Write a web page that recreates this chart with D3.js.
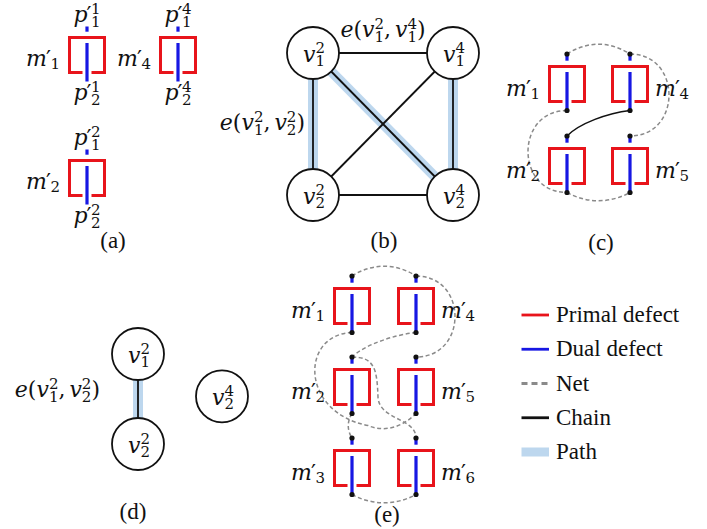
<!DOCTYPE html>
<html>
<head>
<meta charset="utf-8">
<script src="https://cdn.jsdelivr.net/npm/d3@7"></script>
<style>
  body { margin: 0; background: #fff; }
  svg { display: block; }
</style>
</head>
<body>
<svg id="fig" width="707" height="529"></svg>
<script>
// ---------- defects m'_k (panels a, c, e) ----------
const defectsA = ["1", "4", "2"];
const defectColA = ["L", "R", "L"];
const defectRowA = [0, 0, 1];

const defectsC = ["1", "4", "2", "5"];
const defectColC = ["L", "R", "L", "R"];
const defectRowC = [0, 0, 1, 1];

const defectsE = ["1", "4", "2", "5", "3", "6"];
const defectColE = ["L", "R", "L", "R", "L", "R"];
const defectRowE = [0, 0, 1, 1, 2, 2];

// ---------- port graphs (panels b, d); vertex v^k_i stored as [i, k] ----------
const verticesB = [["1", "2"], ["1", "4"], ["2", "2"], ["2", "4"]];
const edgesB = [[0, 1], [0, 2], [0, 3], [1, 2], [1, 3], [2, 3]];
const pathB = [[0, 2], [0, 3], [1, 3]];
const labelledEdgesB = [[0, 1], [0, 2]];

const verticesD = [["1", "2"], ["2", "2"], ["2", "4"]];
const edgesD = [[0, 1]];
const pathD = [[0, 1]];
const labelledEdgesD = [[0, 1]];

// ---------- nets / chains between port terminals: [defect, end] ----------
const netsC = [
  [["1", "t"], ["4", "t"]],
  [["4", "t"], ["5", "t"]],
  [["1", "b"], ["2", "b"]],
  [["2", "b"], ["5", "b"]]
];
const chainsC = [[["4", "b"], ["2", "t"]]];

const netsE = [
  [["1", "t"], ["4", "t"]],
  [["4", "t"], ["5", "t"]],
  [["1", "b"], ["5", "b"]],
  [["4", "b"], ["2", "t"]],
  [["2", "t"], ["6", "t"]],
  [["2", "b"], ["3", "t"]],
  [["3", "b"], ["6", "b"]]
];

// ---------- legend ----------
const legendItems = ["Primal defect", "Dual defect", "Net", "Chain", "Path"];
const legendKinds = ["primal", "dual", "net", "chain", "path"];
const panelTags = ["(a)", "(b)", "(c)", "(d)", "(e)"];

// ---------- style ----------
const RED = "#e8141b", BLUE = "#1717e3", PATHC = "#bdd7ee", NETC = "#8a8a8a", INK = "#111";
const MATH = "'DejaVu Serif', serif";
const TEXT = "'Liberation Serif', 'Times New Roman', serif";

const svg = d3.select("#fig");
const layer = {
  band: svg.append("g"),
  edge: svg.append("g"),
  node: svg.append("g"),
  defect: svg.append("g"),
  net: svg.append("g"),
  dot: svg.append("g"),
  text: svg.append("g")
};

// typeset a small formula (tokens {b, prime, sup, sub, after}) as one text element
function mathLabel(parent, x, y, tokens, anchor) {
  const s = 22, ss = 15;
  const text = parent.append("text").style("font-family", MATH).attr("fill", INK);
  let cx = 0;
  const put = (txt, px, py, fs, italic) => {
    const t = text.append("tspan").attr("x", px).attr("y", py)
      .style("font-size", fs + "px")
      .style("font-style", italic ? "italic" : "normal")
      .text(txt);
    return t.node().getComputedTextLength();
  };
  tokens.forEach(tk => {
    cx += put(tk.b, cx, 0, s, /[a-z]/.test(tk.b));
    if (tk.prime) cx += put("\u2032", cx - 1, 0, s, false) - 1.5;
    if (tk.sup || tk.sub) {
      let w = 0;
      if (tk.sup) w = Math.max(w, put(tk.sup, cx, -8.5, ss, false));
      if (tk.sub) w = Math.max(w, put(tk.sub, cx, tk.sup ? 4.5 : 2.5, ss, false));
      cx += w;
    }
    if (tk.after) cx += tk.after;
  });
  const shift = anchor === "middle" ? cx / 2 : anchor === "end" ? cx : 0;
  text.attr("transform", `translate(${x - shift},${y})`);
}
const vTok = (i, k) => ({ b: "v", sup: k, sub: i });
const pTok = (k, i) => ({ b: "p", prime: true, sup: k, sub: i });
const mTok = k => ({ b: "m", prime: true, sub: k });
const eToks = (u, w) => [{ b: "e" }, { b: "(" }, vTok(u[0], u[1]), { b: ",", after: 4 }, vTok(w[0], w[1]), { b: ")" }];

// one primal/dual defect pair: red bracket with a blue dual line
function drawDefect(cx, ty, tickTop) {
  layer.defect.append("path")
    .attr("d", `M${cx - 4.5},${ty + 36.5}H${cx - 17.5}V${ty + 1.5}H${cx + 17.5}V${ty + 36.5}H${cx + 4.5}`)
    .attr("fill", "none").attr("stroke", RED).attr("stroke-width", 3);
  layer.defect.append("line")
    .attr("x1", cx).attr("x2", cx).attr("y1", ty + 7).attr("y2", ty + 45.5)
    .attr("stroke", BLUE).attr("stroke-width", 3.2);
  layer.defect.append("line")
    .attr("x1", cx).attr("x2", cx).attr("y1", ty - tickTop).attr("y2", ty - 4.3)
    .attr("stroke", BLUE).attr("stroke-width", 3.2);
}

// ---------- panel (a) ----------
{
  const x = d3.scalePoint().domain(["L", "R"]).range([87, 178]);
  const y = d3.scalePoint().domain([0, 1]).range([36, 159]);
  defectsA.forEach((k, i) => {
    const cx = x(defectColA[i]), ty = y(defectRowA[i]);
    drawDefect(cx, ty, 9.5);
    mathLabel(layer.text, cx, ty - 14, [pTok(k, "1")], "middle");
    mathLabel(layer.text, cx, ty + 64, [pTok(k, "2")], "middle");
    mathLabel(layer.text, cx - 27, ty + 30, [mTok(k)], "end");
  });
}

// ---------- graph panels (b) and (d) ----------
function drawGraph(verts, edges, path, labelled, pos, labelPlace) {
  const R = 26;
  const P = verts.map(pos);
  path.forEach(([a, b]) => {
    layer.band.append("line")
      .attr("x1", P[a][0]).attr("y1", P[a][1]).attr("x2", P[b][0]).attr("y2", P[b][1])
      .attr("stroke", PATHC).attr("stroke-width", 10);
  });
  edges.forEach(([a, b]) => {
    layer.edge.append("line")
      .attr("x1", P[a][0]).attr("y1", P[a][1]).attr("x2", P[b][0]).attr("y2", P[b][1])
      .attr("stroke", INK).attr("stroke-width", 1.8);
  });
  verts.forEach((v, i) => {
    layer.node.append("circle").attr("cx", P[i][0]).attr("cy", P[i][1]).attr("r", R)
      .attr("fill", "#fff").attr("stroke", INK).attr("stroke-width", 1.8);
    mathLabel(layer.text, P[i][0] + 1, P[i][1] + 8.5, [vTok(v[0], v[1])], "middle");
  });
  labelled.forEach(([a, b]) => {
    const [lx, ly, anchor] = labelPlace(P[a], P[b]);
    mathLabel(layer.text, lx, ly, eToks(verts[a], verts[b]), anchor);
  });
}
{
  const x = d3.scalePoint().domain(["2", "4"]).range([313, 453]);
  const y = d3.scalePoint().domain(["1", "2"]).range([53, 195]);
  drawGraph(verticesB, edgesB, pathB, labelledEdgesB, v => [x(v[1]), y(v[0])],
    (p, q) => p[1] === q[1]
      ? [(p[0] + q[0]) / 2, p[1] - 16, "middle"]
      : [p[0] - 8, (p[1] + q[1]) / 2 + 6, "end"]);
}
{
  const x = d3.scalePoint().domain(["2", "4"]).range([138, 222]);
  const y = d3.scaleLinear().domain([1, 2]).range([354, 444]);
  const rowOf = v => (v[1] === "2" ? +v[0] : 1.47);
  drawGraph(verticesD, edgesD, pathD, labelledEdgesD, v => [x(v[1]), y(rowOf(v))],
    (p, q) => [p[0] - 38, (p[1] + q[1]) / 2 - 2, "end"]);
}

// ---------- circuit panels (c) and (e) ----------
function netPath(A, B) {
  const dx = B.x - A.x, dy = B.y - A.y;
  if (A.row === B.row && A.end === "t" && B.end === "t")
    return `M${A.x},${A.y}C${A.x + 20},${A.y - 13} ${B.x - 20},${B.y - 13} ${B.x},${B.y}`;
  if (A.row === B.row && A.end === "b" && B.end === "b")
    return `M${A.x},${A.y}C${A.x + 20},${A.y + 11} ${B.x - 20},${B.y + 11} ${B.x},${B.y}`;
  if (A.col === B.col && A.end === B.end) {
    const s = A.col === "R" ? 52 : -52;
    return `M${A.x},${A.y}C${A.x + s},${A.y} ${B.x + s},${B.y} ${B.x},${B.y}`;
  }
  if (A.col === B.col)
    return `M${A.x},${A.y}C${A.x - 5},${A.y + 8} ${B.x - 5},${B.y - 8} ${B.x},${B.y}`;
  if (A.end === "b" && B.end === "t")
    return `M${A.x},${A.y}C${A.x + dx * 0.35},${A.y + dy * 0.1} ${A.x + dx * 0.8},${A.y + dy * 0.5} ${B.x},${B.y}`;
  if (A.end === "t" && B.end === "t") {
    const mx = A.x + 26, my = A.y + 40;
    return `M${A.x},${A.y}C${A.x + 23},${A.y} ${A.x + 25},${A.y + 13} ${mx},${my}` +
      `C${A.x + 27},${A.y + 63} ${B.x},${B.y - 20} ${B.x},${B.y}`;
  }
  // bottom to bottom across rows: wrap round the left of the lower defect
  const mx = A.x + 16, my = A.y + 93;
  return `M${A.x},${A.y}C${A.x - 52},${A.y + 2} ${A.x - 52},${A.y + 80} ${mx},${my}` +
    `C${A.x + 32},${A.y + 100} ${B.x - 14},${B.y + 14} ${B.x},${B.y}`;
}

function drawCircuit(defs, cols, rows, x, y, nets, chains) {
  const info = {};
  defs.forEach((k, i) => {
    const cx = x(cols[i]), ty = y(rows[i]);
    info[k] = { cx, ty, col: cols[i], row: rows[i] };
    drawDefect(cx, ty, 11);
    if (cols[i] === "L") mathLabel(layer.text, cx - 27, ty + 31, [mTok(k)], "end");
    else mathLabel(layer.text, cx + 25, ty + 31, [mTok(k)], "start");
    [ty - 11, ty + 45.5].forEach(dy => {
      layer.dot.append("circle").attr("cx", cx).attr("cy", dy).attr("r", 2.6).attr("fill", INK);
    });
  });
  const term = ([k, end]) => {
    const d = info[k];
    return { x: d.cx, y: end === "t" ? d.ty - 11 : d.ty + 45.5, col: d.col, row: d.row, end };
  };
  nets.forEach(([a, b]) => {
    layer.net.append("path").attr("d", netPath(term(a), term(b)))
      .attr("fill", "none").attr("stroke", NETC).attr("stroke-width", 1.5)
      .attr("stroke-dasharray", "4,2.6");
  });
  chains.forEach(([a, b]) => {
    layer.net.append("path").attr("d", netPath(term(a), term(b)))
      .attr("fill", "none").attr("stroke", INK).attr("stroke-width", 1.5);
  });
}
drawCircuit(defectsC, defectColC, defectRowC,
  d3.scalePoint().domain(["L", "R"]).range([567, 630]),
  d3.scalePoint().domain([0, 1]).range([65, 147]),
  netsC, chainsC);
drawCircuit(defectsE, defectColE, defectRowE,
  d3.scalePoint().domain(["L", "R"]).range([352, 416]),
  d3.scalePoint().domain([0, 1, 2]).range([287, 449]),
  netsE, []);

// ---------- legend ----------
{
  const ly = d3.scalePoint().domain(legendItems).range([315, 452]);
  const x0 = 521.5, x1 = 549;
  const lg = svg.append("g");
  legendItems.forEach((name, i) => {
    const yy = ly(name), kind = legendKinds[i];
    if (kind === "path") {
      lg.append("rect").attr("x", x0).attr("y", yy - 4.5).attr("width", x1 - x0).attr("height", 9)
        .attr("fill", PATHC);
    } else {
      lg.append("line").attr("x1", x0).attr("x2", x1).attr("y1", yy).attr("y2", yy)
        .attr("stroke", kind === "primal" ? RED : kind === "dual" ? BLUE : kind === "net" ? NETC : INK)
        .attr("stroke-width", 2.8)
        .attr("stroke-dasharray", kind === "net" ? "6,4" : null);
    }
    lg.append("text").attr("x", 556).attr("y", yy + 7)
      .style("font-family", TEXT).style("font-size", "23px").attr("fill", INK).text(name);
  });
}

// ---------- panel captions ----------
{
  const capX = [113, 384, 601, 133, 387];
  const capY = [248, 248, 250, 519, 522];
  panelTags.forEach((t, i) => {
    svg.append("text").attr("x", capX[i]).attr("y", capY[i]).attr("text-anchor", "middle")
      .style("font-family", TEXT).style("font-size", "23px").attr("fill", INK).text(t);
  });
}
</script>
</body>
</html>
